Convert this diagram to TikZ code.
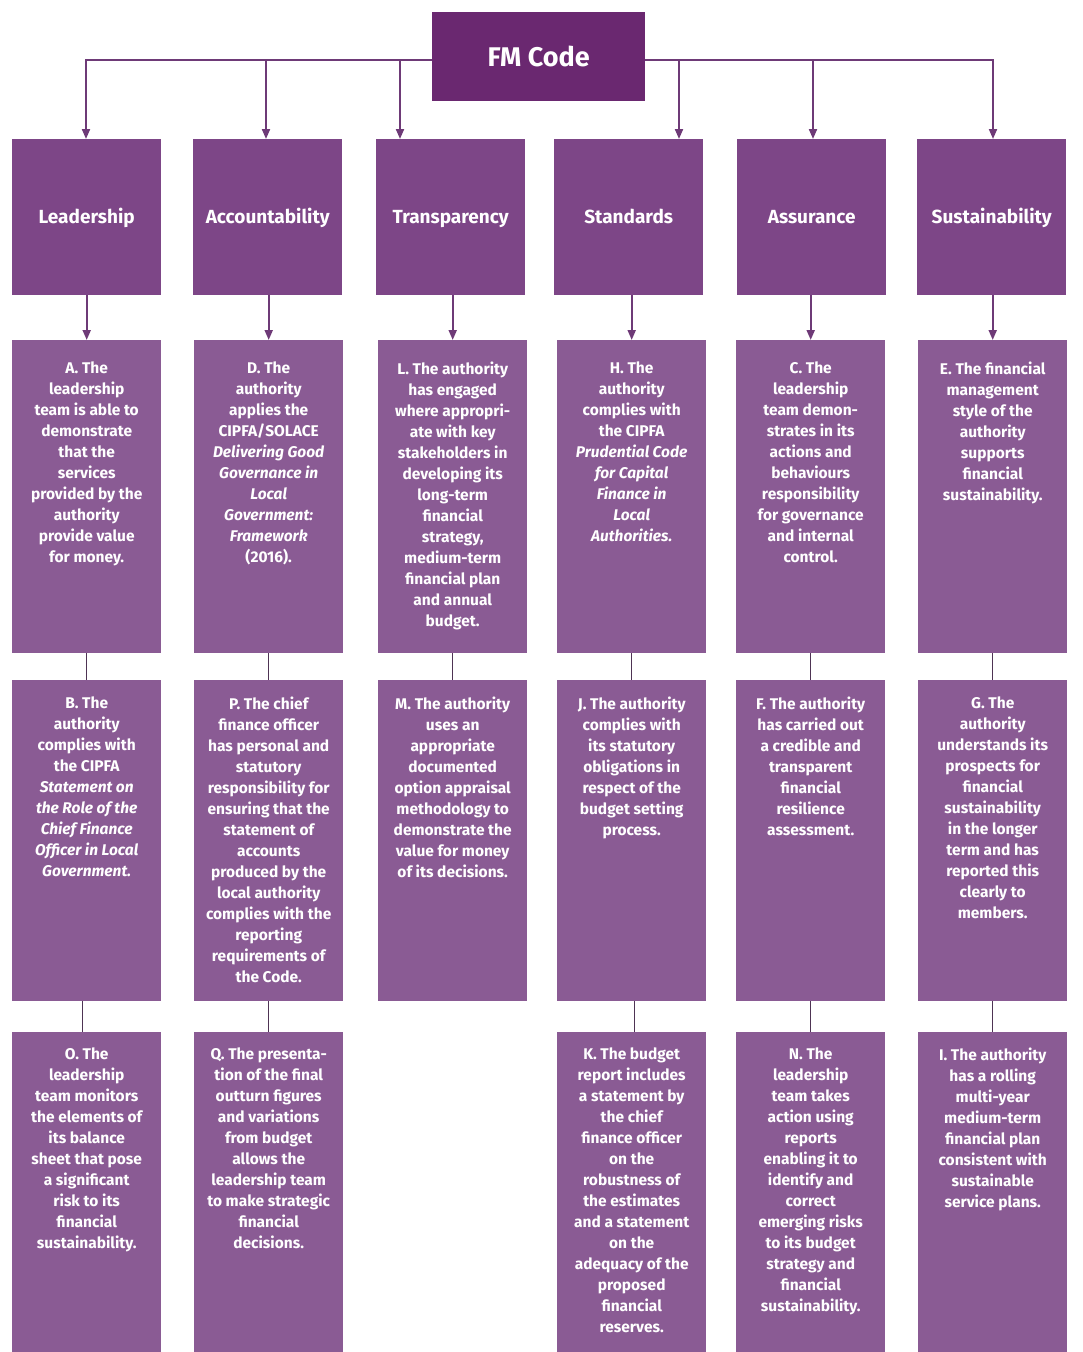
\documentclass[tikz,border=0pt]{standalone}
\usepackage{fontspec}
\setmainfont{Fira Sans}
\usetikzlibrary{arrows.meta,calc}
\definecolor{fmcol}{HTML}{6A2870}
\definecolor{headcol}{HTML}{7D4687}
\definecolor{boxcol}{HTML}{8A5B94}
\definecolor{linecol}{HTML}{6E3A77}
\definecolor{thincol}{HTML}{4E3454}
\tikzset{
  fmbox/.style={draw=none,fill=fmcol,anchor=north west,minimum width=213pt,minimum height=89pt,inner sep=0pt,text=white,font=\fontsize{27}{30}\selectfont\bfseries},
  headbox/.style={draw=none,fill=headcol,anchor=north west,minimum width=149pt,minimum height=156pt,inner sep=0pt,text height=16pt,text depth=4pt,text=white,font=\fontsize{19}{22}\selectfont\bfseries},
  cbox/.style={draw=none,fill=boxcol,anchor=north west,minimum width=149pt,inner sep=0pt},
  ctext/.style={anchor=north,inner sep=0pt,align=center,text=white,font=\fontsize{15.5}{21}\selectfont\bfseries},
  arr/.style={draw=linecol,line width=2pt,-{Triangle[width=8pt,length=10pt]}},
  link/.style={draw=thincol,line width=1.5pt}
}
\begin{document}
\begin{tikzpicture}[x=1pt,y=-1pt]
\useasboundingbox (0,0) rectangle (1083,1352);
% top
\node[fmbox] (fm) at (432,12) {FM Code};
% headers
\node[headbox] (h1) at (12,139) {Leadership};
\node[headbox] (h2) at (193,139) {Accountability};
\node[headbox] (h3) at (376,139) {Transparency};
\node[headbox] (h4) at (554,139) {Standards};
\node[headbox] (h5) at (737,139) {Assurance};
\node[headbox] (h6) at (917,139) {Sustainability};
% row 1
\node[cbox,minimum height=313pt] (a1) at (12,340) {};
\node[cbox,minimum height=313pt] (a2) at (194,340) {};
\node[cbox,minimum height=313pt] (a3) at (378,340) {};
\node[cbox,minimum height=313pt] (a4) at (557,340) {};
\node[cbox,minimum height=313pt] (a5) at (736,340) {};
\node[cbox,minimum height=313pt] (a6) at (918,340) {};
% row 2
\node[cbox,minimum height=321pt] (b1) at (12,680) {};
\node[cbox,minimum height=321pt] (b2) at (194,680) {};
\node[cbox,minimum height=321pt] (b3) at (378,680) {};
\node[cbox,minimum height=321pt] (b4) at (557,680) {};
\node[cbox,minimum height=321pt] (b5) at (736,680) {};
\node[cbox,minimum height=321pt] (b6) at (918,680) {};
% row 3
\node[cbox,minimum height=320pt] (c1) at (12,1032) {};
\node[cbox,minimum height=320pt] (c2) at (194,1032) {};
\node[cbox,minimum height=320pt] (c4) at (557,1032) {};
\node[cbox,minimum height=320pt] (c5) at (736,1032) {};
\node[cbox,minimum height=320pt] (c6) at (918,1032) {};
% texts row 1
\node[ctext] (a1t) at ($(a1.north)+(0,22)$) {A. The\\leadership\\team is able to\\demonstrate\\that the\\services\\provided by the\\authority\\provide value\\for money.};
\node[ctext] (a2t) at ($(a2.north)+(0,22)$) {D. The\\authority\\applies the\\CIPFA/SOLACE\\\textit{Delivering Good}\\\textit{Governance in}\\\textit{Local}\\\textit{Government:}\\\textit{Framework}\\(2016).};
\node[ctext] (a3t) at ($(a3.north)+(0,22)$) {L. The authority\\has engaged\\where appropri-\\ate with key\\stakeholders in\\developing its\\long-term\\financial\\strategy,\\medium-term\\financial plan\\and annual\\budget.};
\node[ctext] (a4t) at ($(a4.north)+(0,22)$) {H. The\\authority\\complies with\\the CIPFA\\\textit{Prudential Code}\\\textit{for Capital}\\\textit{Finance in}\\\textit{Local}\\\textit{Authorities.}};
\node[ctext] (a5t) at ($(a5.north)+(0,22)$) {C. The\\leadership\\team demon-\\strates in its\\actions and\\behaviours\\responsibility\\for governance\\and internal\\control.};
\node[ctext] (a6t) at ($(a6.north)+(0,22)$) {E. The financial\\management\\style of the\\authority\\supports\\financial\\sustainability.};
% texts row 2
\node[ctext] (b1t) at ($(b1.north)+(0,17)$) {B. The\\authority\\complies with\\the CIPFA\\\textit{Statement on}\\\textit{the Role of the}\\\textit{Chief Finance}\\\textit{Officer in Local}\\\textit{Government.}};
\node[ctext] (b2t) at ($(b2.north)+(0,17)$) {P. The chief\\finance officer\\has personal and\\statutory\\responsibility for\\ensuring that the\\statement of\\accounts\\produced by the\\local authority\\complies with the\\reporting\\requirements of\\the Code.};
\node[ctext] (b3t) at ($(b3.north)+(0,17)$) {M. The authority\\uses an\\appropriate\\documented\\option appraisal\\methodology to\\demonstrate the\\value for money\\of its decisions.};
\node[ctext] (b4t) at ($(b4.north)+(0,17)$) {J. The authority\\complies with\\its statutory\\obligations in\\respect of the\\budget setting\\process.};
\node[ctext] (b5t) at ($(b5.north)+(0,17)$) {F. The authority\\has carried out\\a credible and\\transparent\\financial\\resilience\\assessment.};
\node[ctext] (b6t) at ($(b6.north)+(0,17)$) {G. The\\authority\\understands its\\prospects for\\financial\\sustainability\\in the longer\\term and has\\reported this\\clearly to\\members.};
% texts row 3
\node[ctext] (c1t) at ($(c1.north)+(0,16)$) {O. The\\leadership\\team monitors\\the elements of\\its balance\\sheet that pose\\a significant\\risk to its\\financial\\sustainability.};
\node[ctext] (c2t) at ($(c2.north)+(0,16)$) {Q. The presenta-\\tion of the final\\outturn figures\\and variations\\from budget\\allows the\\leadership team\\to make strategic\\financial\\decisions.};
\node[ctext] (c4t) at ($(c4.north)+(0,16)$) {K. The budget\\report includes\\a statement by\\the chief\\finance officer\\on the\\robustness of\\the estimates\\and a statement\\on the\\adequacy of the\\proposed\\financial\\reserves.};
\node[ctext] (c5t) at ($(c5.north)+(0,16)$) {N. The\\leadership\\team takes\\action using\\reports\\enabling it to\\identify and\\correct\\emerging risks\\to its budget\\strategy and\\financial\\sustainability.};
\node[ctext] (c6t) at ($(c6.north)+(0,16)$) {I. The authority\\has a rolling\\multi-year\\medium-term\\financial plan\\consistent with\\sustainable\\service plans.};
% bus from FM Code
\coordinate (busL) at ($(fm.north west)+(0,48)$);
\coordinate (busR) at ($(fm.north east)+(0,48)$);
\draw[arr] (busL) -| ($(h1.north west)+(74,0)$);
\draw[arr] (busL) -| ($(h2.north west)+(73,0)$);
\draw[arr] (busL) -| ($(h3.north west)+(24,0)$);
\draw[arr] (busR) -| ($(h4.north west)+(125,0)$);
\draw[arr] (busR) -| ($(h5.north west)+(76,0)$);
\draw[arr] (busR) -| ($(h6.north west)+(76,0)$);
% header to row 1
\foreach \i in {1,...,6}{
  \draw[arr] (a\i.north |- h\i.south) -- (a\i.north);
}
% row 1 to row 2
\foreach \i in {1,...,6}{
  \draw[link] (a\i.south) -- (b\i.north);
}
% row 2 to row 3
\draw[link] ($(b1.south)+(-4,0)$) -- ($(c1.north)+(-4,0)$);
\foreach \i in {2,5,6}{
  \draw[link] (b\i.south) -- (c\i.north);
}
\draw[link] ($(b4.south)+(3,0)$) -- ($(c4.north)+(3,0)$);
\end{tikzpicture}
\end{document}
